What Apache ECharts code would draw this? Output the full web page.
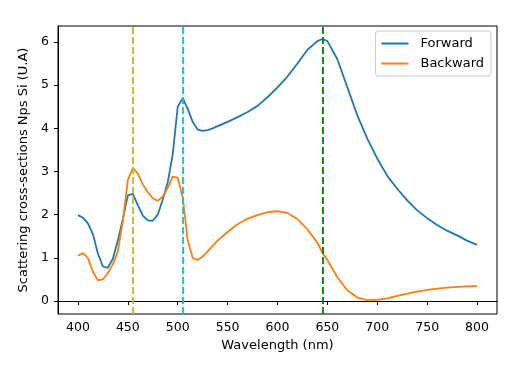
<!DOCTYPE html>
<html>
<head>
<meta charset="utf-8">
<script src="https://cdn.jsdelivr.net/npm/echarts@6/dist/echarts.min.js"></script>
<style>html,body{margin:0;padding:0;background:#fff}#c{width:527px;height:375px}</style>
</head>
<body>
<div id="c"></div>
<script>
const wavelengths = [400,405,410,415,420,425,430,435,440,445,450,455,460,465,470,475,480,485,490,495,500,505,510,515,520,525,530,535,540,550,560,570,580,590,600,610,620,630,640,645,650,660,670,680,690,700,710,720,730,740,750,760,770,780,790,800];
const forward = [1.99,1.93,1.80,1.55,1.10,0.80,0.77,0.98,1.40,1.90,2.45,2.48,2.22,1.98,1.87,1.86,2.00,2.35,2.75,3.40,4.50,4.70,4.45,4.15,3.97,3.94,3.96,4.00,4.05,4.15,4.26,4.38,4.52,4.72,4.95,5.20,5.50,5.82,6.02,6.07,6.02,5.60,4.95,4.30,3.76,3.30,2.90,2.60,2.33,2.10,1.92,1.76,1.63,1.52,1.40,1.30];
const backward = [1.05,1.11,1.00,0.68,0.48,0.50,0.65,0.85,1.15,1.85,2.80,3.08,2.95,2.70,2.52,2.38,2.32,2.42,2.62,2.88,2.86,2.40,1.40,1.00,0.95,1.03,1.15,1.28,1.40,1.60,1.78,1.91,1.99,2.06,2.08,2.04,1.90,1.66,1.35,1.12,0.95,0.55,0.25,0.08,0.02,0.03,0.06,0.12,0.17,0.22,0.26,0.29,0.31,0.33,0.34,0.35];
const xTicks = [400,450,500,550,600,650,700,750,800];
const yTicks = [0,1,2,3,4,5,6];
const vLines = [455,505,645];
const vColors = ['#bcbd22','#17becf','#008000'];

const font = 'DejaVu Sans';
const chart = echarts.init(document.getElementById('c'));
const pair = (ys) => wavelengths.map((x,i)=>[x,ys[i]]);
chart.setOption({
  animation:false,
  grid:{left:58,right:30,top:26,bottom:61,show:true,borderColor:'#000',borderWidth:1,backgroundColor:'transparent'},
  xAxis:{type:'value',min:380,max:820,
    name:'Wavelength (nm)',nameLocation:'middle',nameGap:24,
    nameTextStyle:{fontFamily:font,fontSize:13,color:'#000'},
    axisLine:{show:true,lineStyle:{color:'#000',width:1}},
    axisTick:{show:true,length:4,lineStyle:{color:'#000'},customValues:xTicks},
    axisLabel:{fontFamily:font,fontSize:12.5,color:'#000',margin:7,customValues:xTicks},
    splitLine:{show:false}},
  yAxis:{type:'value',min:-0.3,max:6.37,
    name:'Scattering cross-sections Nps Si (U.A)',nameLocation:'middle',nameGap:22,
    nameTextStyle:{fontFamily:font,fontSize:13,color:'#000'},
    axisLine:{show:true,lineStyle:{color:'#000',width:1}},
    axisTick:{show:true,length:4,lineStyle:{color:'#000'},customValues:yTicks},
    axisLabel:{fontFamily:font,fontSize:12.5,color:'#000',margin:9,customValues:yTicks},
    splitLine:{show:false}},
  legend:{right:36,top:31,orient:'vertical',itemGap:7,itemWidth:27,itemHeight:2,
    padding:[6,7,6,6],
    borderColor:'#ccc',borderWidth:1,borderRadius:3,backgroundColor:'rgba(255,255,255,0.8)',
    textStyle:{fontFamily:font,fontSize:13,color:'#000',padding:[0,0,0,7]},
    data:[{name:'Forward',icon:'rect'},{name:'Backward',icon:'rect'}]},
  series:[
    {name:'Forward',type:'line',data:pair(forward),smooth:false,showSymbol:false,
      lineStyle:{color:'#1f77b4',width:1.8},itemStyle:{color:'#1f77b4'},z:3},
    {name:'Backward',type:'line',data:pair(backward),smooth:false,showSymbol:false,
      lineStyle:{color:'#ff7f0e',width:1.8},itemStyle:{color:'#ff7f0e'},z:3,
      markLine:{silent:true,symbol:['none','none'],label:{show:false},
        data:vLines.map((v,i)=>({xAxis:v,lineStyle:{color:vColors[i],type:[7,3],width:1.8}}))}}
  ]
});
</script>
</body>
</html>
